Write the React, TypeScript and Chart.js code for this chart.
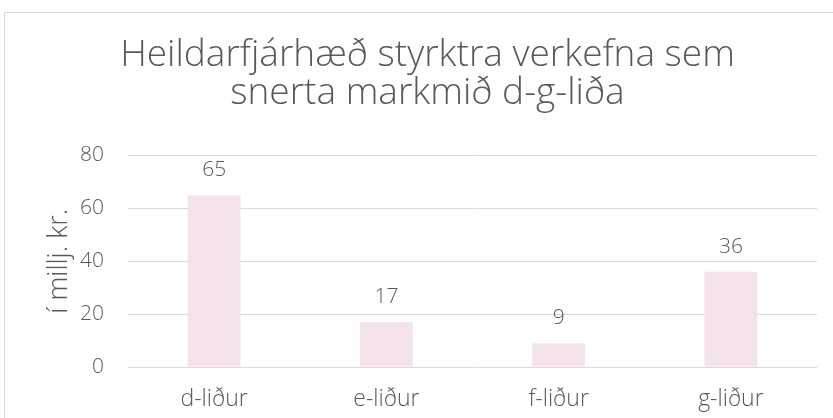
import React, { useEffect, useRef } from "react";
import { Chart, registerables } from "chart.js";

Chart.register(...registerables);

const categories = ["d-liður", "e-liður", "f-liður", "g-liður"];
const values = [65, 17, 9, 36];
const yTicks = [0, 20, 40, 60, 80];
const titleLines = ["Heildarfjárhæð styrktra verkefna sem", "snerta markmið d-g-liða"];
const yAxisTitle = "í millj. kr.";

const FONT = "'Open Sans', 'Noto Sans', sans-serif";
const TEXT = "#595959";
const GRID = "#d9d9d9";
const BAR = "#f4e3ec";

const dataLabels = {
  id: "dataLabels",
  afterDatasetsDraw(chart: any) {
    const ctx = chart.ctx;
    const meta = chart.getDatasetMeta(0);
    ctx.save();
    ctx.font = `300 21px ${FONT}`;
    ctx.fillStyle = TEXT;
    ctx.textAlign = "center";
    ctx.textBaseline = "middle";
    meta.data.forEach((el: any, i: number) => {
      ctx.fillText(String(values[i]), el.x, el.y - 25);
    });
    ctx.restore();
  },
};

export default function App() {
  const ref = useRef<HTMLCanvasElement | null>(null);
  useEffect(() => {
    if (!ref.current) return;
    const chart = new Chart(ref.current, {
      type: "bar",
      data: {
        labels: categories,
        datasets: [
          {
            data: values,
            backgroundColor: BAR,
            borderWidth: 0,
            barPercentage: 0.307,
            categoryPercentage: 1,
          },
        ],
      },
      options: {
        responsive: false,
        animation: false,
        layout: { padding: { left: 33, right: 33, top: 0, bottom: 0 } },
        plugins: {
          legend: { display: false },
          tooltip: { enabled: false },
          title: {
            display: true,
            text: titleLines,
            color: TEXT,
            font: { family: FONT, size: 37, weight: "300" as any, lineHeight: 1.02 },
            padding: { top: 24, bottom: 43 },
          },
        },
        scales: {
          x: {
            grid: { display: false },
            border: { display: false },
            ticks: { color: TEXT, font: { family: FONT, size: 23, weight: "300" as any }, padding: 11 },
            afterFit(scale: any) {
              scale.height = 51;
            },
          },
          y: {
            min: 0,
            max: 80,
            afterBuildTicks(scale: any) {
              scale.ticks = yTicks.map((v) => ({ value: v }));
            },
            grid: { color: GRID, lineWidth: 1, drawTicks: false },
            border: { display: false },
            ticks: { color: TEXT, font: { family: FONT, size: 21, weight: "300" as any }, padding: 24 },
            title: {
              display: true,
              text: yAxisTitle,
              color: TEXT,
              font: { family: FONT, size: 27, weight: "300" as any },
              padding: { top: 5, bottom: 0 },
            },
            afterFit(scale: any) {
              scale.width = 90;
            },
          },
        },
      },
      plugins: [dataLabels],
    });
    return () => chart.destroy();
  }, []);

  return (
    <div style={{ position: "fixed", left: 0, top: 0, width: 833, height: 418, overflow: "hidden", background: "#fff" }}>
      <div
        style={{
          position: "absolute",
          left: 4,
          top: 12,
          width: 845,
          height: 420,
          border: "1px solid #d9d9d9",
          boxSizing: "content-box",
        }}
      >
        <canvas ref={ref} width={845} height={405} style={{ display: "block" }} />
      </div>
    </div>
  );
}
